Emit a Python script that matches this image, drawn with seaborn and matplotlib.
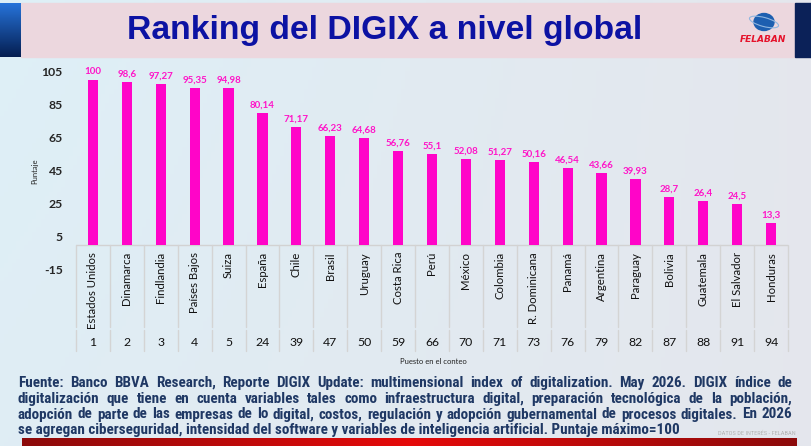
import matplotlib
matplotlib.use("Agg")
import matplotlib.pyplot as plt
import matplotlib.transforms as mtransforms
from matplotlib import font_manager
from matplotlib.patches import Rectangle, Ellipse
import numpy as np
import seaborn as sns

# data
countries = ["Estados Unidos", "Dinamarca", "Findlandia", "Países Bajos", "Suiza",
             "España", "Chile", "Brasil", "Uruguay", "Costa Rica", "Perú", "México",
             "Colombia", "R. Dominicana", "Panamá", "Argentina", "Paraguay", "Bolivia",
             "Guatemala", "El Salvador", "Honduras"]
scores = [100, 98.6, 97.27, 95.35, 94.98, 80.14, 71.17, 66.23, 64.68, 56.76, 55.1,
          52.08, 51.27, 50.16, 46.54, 43.66, 39.93, 28.7, 26.4, 24.5, 13.3]
ranks = [1, 2, 3, 4, 5, 24, 39, 47, 50, 59, 66, 70, 71, 73, 76, 79, 82, 87, 88, 91, 94]
yticks = [-15, 5, 25, 45, 65, 85, 105]

title = "Ranking del DIGIX a nivel global"
note_lines = [
    "Fuente: Banco BBVA Research, Reporte DIGIX Update: multimensional index of digitalization. May 2026. DIGIX índice de",
    "digitalización que tiene en cuenta variables tales como infraestructura digital, preparación tecnológica de la población,",
    "adopción de parte de las empresas de lo digital, costos, regulación y adopción gubernamental de procesos digitales. En 2026",
    "se agregan ciberseguridad, intensidad del software y variables de inteligencia artificial. Puntaje máximo=100",
]

sns.set_theme(style="white")
installed = {f.name for f in font_manager.fontManager.ttflist}


def pick(*names):
    for n in names:
        if n in installed:
            return n
    return "DejaVu Sans"


narrow = pick("Roboto Condensed", "Liberation Sans Narrow", "Arial Narrow")
arial = pick("Liberation Sans", "Arial")
body = pick("Lato", "Open Sans", "Noto Sans")
plt.rcParams["font.family"] = [body, "DejaVu Sans"]

W, H = 811, 446
fig = plt.figure(figsize=(W / 100, H / 100), dpi=100)

# background layer in pixel coordinates
bg = fig.add_axes([0, 0, 1, 1])
bg.set_xlim(0, W)
bg.set_ylim(H, 0)
bg.axis("off")

gx = np.linspace(0, 1, 200)[None, :, None]
gy = np.linspace(0, 1, 100)[:, None, None]
left_c = np.array([0.87, 0.94, 0.97])
right_c = np.array([0.895, 0.905, 0.93])
grad = left_c * (1 - gx) + right_c * gx
grad = grad * (1 - 0.3 * gy) + right_c * 0.3 * gy
bg.imshow(grad, extent=[0, W, H, 0], aspect="auto", zorder=0)

# title band
bg.add_patch(Rectangle((21, 3), 774, 54, color="#ecd7de", zorder=1))
strip = np.linspace(0, 1, 50)[:, None, None]
blue = np.array([0.15, 0.45, 0.85]) * (1 - strip) + np.array([0.02, 0.12, 0.32]) * strip
bg.imshow(blue, extent=[0, 21, 57, 3], aspect="auto", zorder=1)
bg.add_patch(Rectangle((795, 3), 16, 54, color="#0b2158", zorder=1))

bg.add_patch(Ellipse((764, 22), 20, 17, color="#1d5fb0", zorder=2))
bg.add_patch(Ellipse((764, 22), 30, 9, angle=15, fill=False, ec="#8fb6e0", lw=0.8, zorder=3))
bg.text(763, 40, "FELABAN", color="#e5122b", fontsize=6.5, fontweight="bold",
        fontstyle="italic", ha="center", va="center", family="DejaVu Sans", zorder=3)

# red footer bar
rx = np.linspace(-1, 1, 200)
red = np.stack([0.55 + 0.35 * (1 - np.abs(rx)), 0.04 + 0 * rx, 0.04 + 0 * rx], axis=-1)[None, :, :]
bg.imshow(red, extent=[22, 797, 446, 438], aspect="auto", zorder=1)
bg.text(796, 433, "DATOS DE INTERÉS - FELABAN", color="#b4b4b4", fontsize=4.6,
        ha="right", va="center", family=[narrow, "DejaVu Sans"], zorder=2)

renderer = fig.canvas.get_renderer()


def measure(s, **kw):
    t = bg.text(0, 0, s, **kw)
    w = t.get_window_extent(renderer).width
    t.remove()
    return w


# title
tkw = dict(family=[arial, "DejaVu Sans"], fontweight="bold")
tsize = 22 * 515 / measure(title, fontsize=22, **tkw)
bg.text(384.5, 30, title, fontsize=tsize, color="#0c12a3", ha="center", va="center",
        zorder=3, **tkw)

# footnote, justified
nkw = dict(family=[narrow, "DejaVu Sans"], fontweight="bold")
nsize = 10 * 664 / measure(note_lines[-1], fontsize=10, **nkw)
note_y = [383, 399, 414.5, 430]
x0, x1 = 18, 792
for i, line in enumerate(note_lines):
    if i == len(note_lines) - 1:
        bg.text(x0, note_y[i], line, fontsize=nsize, color="#1f3864", va="center",
                zorder=3, **nkw)
        continue
    words = line.split()
    widths = [measure(w, fontsize=nsize, **nkw) for w in words]
    gap = (x1 - x0 - sum(widths)) / (len(words) - 1)
    x = x0
    for w, wd in zip(words, widths):
        bg.text(x, note_y[i], w, fontsize=nsize, color="#1f3864", va="center",
                zorder=3, **nkw)
        x += wd + gap

# chart
top_px, bot_px = 71.7, 269.5
ax = fig.add_axes([76 / W, 1 - bot_px / H, 712 / W, (bot_px - top_px) / H])
ax.patch.set_visible(False)
sns.barplot(x=countries, y=scores, color="#ff05c8", saturation=1, width=0.3,
            linewidth=0, ax=ax)
ax.set_ylim(-15, 105)
ax.set_xlim(-0.5, len(countries) - 0.5)
ax.set_yticks(yticks)
ax.set_yticklabels([str(t) for t in yticks], fontsize=8.8, fontweight="bold", color="#262626")
ax.set_xticks([])
ax.tick_params(axis="y", length=0, pad=9.5)
ax.set_xlabel("")
ax.set_ylabel("")
sns.despine(ax=ax, left=True, bottom=True)

labels = [f"{v:g}".replace(".", ",") for v in scores]
ax.bar_label(ax.containers[0], labels=labels, padding=2.5, color="#ff14c8",
             fontsize=7, fontweight="bold")

ax.axhline(0, color="#d2d2d2", lw=1, zorder=0)
trans = mtransforms.blended_transform_factory(ax.transData, bg.transData)
for i in range(len(countries) + 1):
    for y0, y1 in [(245, 327), (330, 351)]:
        ax.plot([i - 0.5, i - 0.5], [y0, y1], color="#d4d4d4", lw=1,
                transform=trans, clip_on=False)
for i, (c, r) in enumerate(zip(countries, ranks)):
    ax.text(i, 252, c, rotation=90, ha="center", va="top", fontsize=8.2,
            color="#111111", transform=trans, clip_on=False)
    ax.text(i, 343, str(r), ha="center", va="center", fontsize=8.8,
            color="#111111", transform=trans, clip_on=False)

fig.text(35 / W, 1 - 171 / H, "Puntaje", rotation=90, ha="center", va="center",
         fontsize=5.5, color="#222222")
fig.text(433 / W, 1 - 361 / H, "Puesto en el conteo", ha="center", va="center",
         fontsize=5.5, color="#222222")

fig.savefig("out.png", dpi=100)
